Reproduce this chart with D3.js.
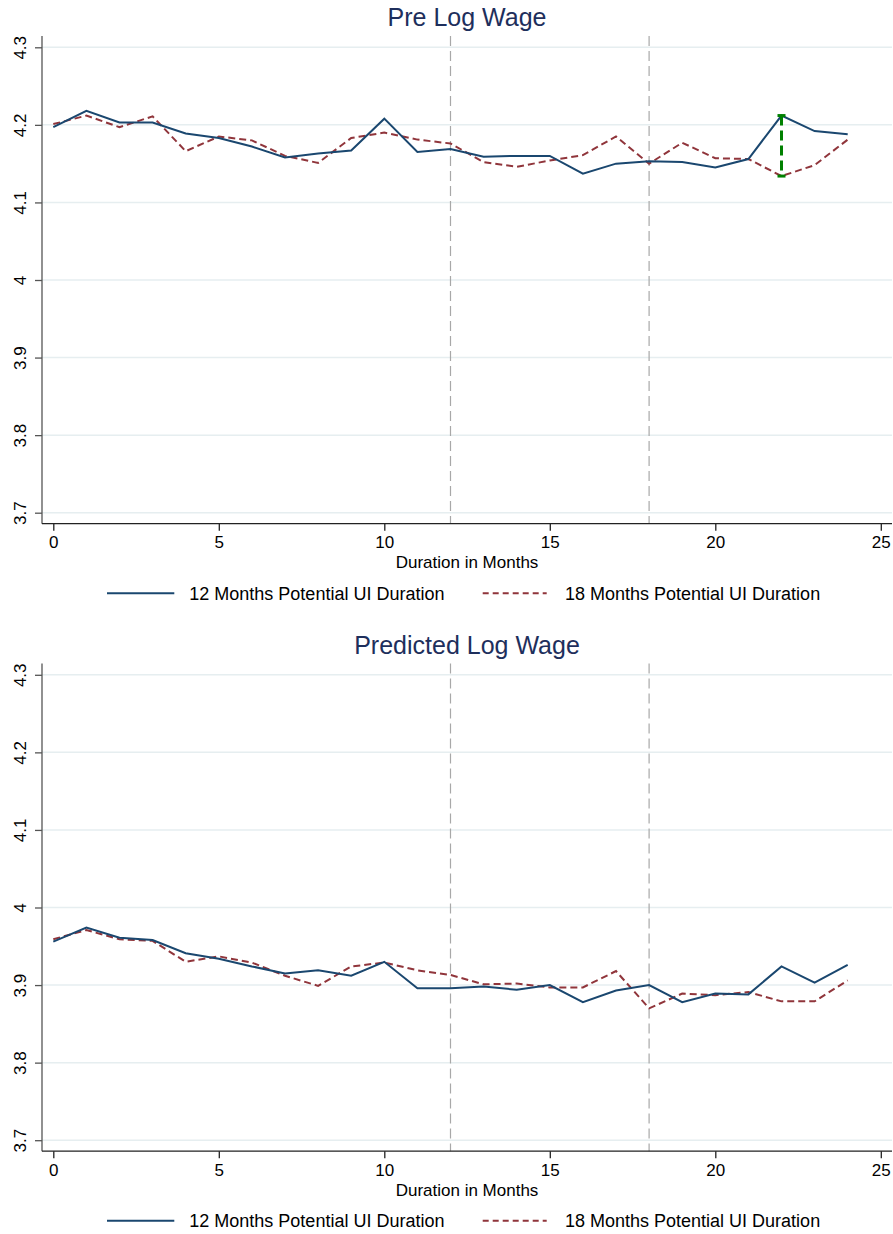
<!DOCTYPE html>
<html>
<head>
<meta charset="utf-8">
<script src="https://cdn.jsdelivr.net/npm/d3@7"></script>
<style>
  body { margin: 0; background: #fff; }
  svg { display: block; font-family: "Liberation Sans", Arial, sans-serif; }
</style>
</head>
<body>
<svg id="chart" width="893" height="1234"></svg>
<script>
const months = d3.range(0, 25);
const xTicks = [0, 5, 10, 15, 20, 25];
const yTicks = [3.7, 3.8, 3.9, 4, 4.1, 4.2, 4.3];
const cutoffs = [12, 18];
const titles = ["Pre Log Wage", "Predicted Log Wage"];
const seriesNames = ["12 Months Potential UI Duration", "18 Months Potential UI Duration"];

const preWage12 = [4.197, 4.218, 4.203, 4.203, 4.189, 4.183, 4.172, 4.158, 4.163, 4.167, 4.208, 4.165, 4.169,
                   4.159, 4.160, 4.160, 4.137, 4.150, 4.153, 4.152, 4.145, 4.156, 4.212, 4.192, 4.188];
const preWage18 = [4.201, 4.212, 4.197, 4.211, 4.166, 4.185, 4.180, 4.160, 4.151, 4.183, 4.190, 4.181, 4.176,
                   4.152, 4.146, 4.154, 4.161, 4.185, 4.150, 4.177, 4.157, 4.156, 4.134, 4.148, 4.181];
const predWage12 = [3.956, 3.974, 3.961, 3.958, 3.941, 3.934, 3.924, 3.915, 3.919, 3.912, 3.930, 3.896, 3.896,
                    3.898, 3.894, 3.900, 3.878, 3.893, 3.900, 3.878, 3.889, 3.888, 3.924, 3.903, 3.926];
const predWage18 = [3.959, 3.971, 3.959, 3.957, 3.930, 3.937, 3.929, 3.912, 3.899, 3.924, 3.929, 3.919, 3.913,
                    3.901, 3.902, 3.897, 3.897, 3.918, 3.870, 3.889, 3.887, 3.891, 3.879, 3.879, 3.906];
const gapMonth = [22];

const blue = "#1a476f";
const red = "#90353b";
const svg = d3.select("#chart");

function panel(dy, title, s12, s18, showGap) {
  const g = svg.append("g").attr("transform", `translate(0,${dy})`);
  const left = 42, right = 892, top = 36, bottom = 523.7;
  const x = d3.scaleLinear().domain([0, 25]).range([53.3, 880.8]);
  const y = d3.scaleLinear().domain([3.7, 4.3]).range([512.7, 47.3]);

  // title
  g.append("text").attr("x", (left + right) / 2).attr("y", 26)
    .attr("text-anchor", "middle").attr("font-size", 25).attr("fill", "#1e2f5c").text(title);

  // gridlines
  g.append("g").selectAll("line").data(yTicks).join("line")
    .attr("x1", left).attr("x2", right)
    .attr("y1", d => y(d)).attr("y2", d => y(d))
    .attr("stroke", "#e6eef0").attr("stroke-width", 1.5);

  // cutoff lines
  g.append("g").selectAll("line").data(cutoffs).join("line")
    .attr("x1", d => x(d)).attr("x2", d => x(d))
    .attr("y1", top).attr("y2", bottom)
    .attr("stroke", "#a8a8a8").attr("stroke-width", 1.2).attr("stroke-dasharray", "10,5");

  // axes
  const yAxis = g.append("g").attr("transform", `translate(${left},0)`)
    .call(d3.axisLeft(y).tickValues(yTicks).tickSize(7).tickFormat(d3.format("")));
  yAxis.select(".domain").attr("d", `M0,${top}V${bottom}`).attr("stroke", "#555").attr("stroke-width", 1.3);
  yAxis.selectAll(".tick line").attr("stroke", "#555").attr("stroke-width", 1.3);
  yAxis.selectAll(".tick text").attr("font-size", 17).attr("fill", "#000")
    .attr("x", null).attr("dy", null).attr("text-anchor", "middle")
    .attr("transform", "translate(-16.5,0) rotate(-90)");

  const xAxis = g.append("g").attr("transform", `translate(0,${bottom})`)
    .call(d3.axisBottom(x).tickValues(xTicks).tickSize(7).tickFormat(d3.format("")));
  xAxis.select(".domain").attr("d", `M${left},0H${right}`).attr("stroke", "#222").attr("stroke-width", 1.3);
  xAxis.selectAll(".tick line").attr("stroke", "#222").attr("stroke-width", 1.3);
  xAxis.selectAll(".tick text").attr("font-size", 17).attr("fill", "#000")
    .attr("y", null).attr("dy", null).attr("transform", "translate(0,24.6)");

  g.append("text").attr("x", (left + right) / 2).attr("y", 568.3)
    .attr("text-anchor", "middle").attr("font-size", 17).text("Duration in Months");

  // lines
  const line = d3.line().x((d, i) => x(months[i])).y(d => y(d));
  g.append("path").datum(s18).attr("d", line).attr("fill", "none")
    .attr("stroke", red).attr("stroke-width", 2).attr("stroke-dasharray", "7,4");
  g.append("path").datum(s12).attr("d", line).attr("fill", "none")
    .attr("stroke", blue).attr("stroke-width", 2);

  if (showGap) {
    gapMonth.forEach(m => {
      const hi = s12[m], lo = s18[m];
      g.append("line").attr("x1", x(m)).attr("x2", x(m)).attr("y1", y(hi)).attr("y2", y(lo))
        .attr("stroke", "#008000").attr("stroke-width", 3).attr("stroke-dasharray", "10,5");
      [hi, lo].forEach(v => {
        g.append("line").attr("x1", x(m) - 4).attr("x2", x(m) + 4).attr("y1", y(v)).attr("y2", y(v))
          .attr("stroke", "#008000").attr("stroke-width", 3);
      });
    });
  }

  // legend
  const ly = 593.3;
  g.append("line").attr("x1", 107).attr("x2", 174.3).attr("y1", ly).attr("y2", ly)
    .attr("stroke", blue).attr("stroke-width", 2);
  g.append("text").attr("x", 189.3).attr("y", ly + 6.3).attr("font-size", 18).text(seriesNames[0]);
  g.append("line").attr("x1", 482.7).attr("x2", 546.7).attr("y1", ly).attr("y2", ly)
    .attr("stroke", red).attr("stroke-width", 2).attr("stroke-dasharray", "6,4");
  g.append("text").attr("x", 565).attr("y", ly + 6.3).attr("font-size", 18).text(seriesNames[1]);
}

panel(0, titles[0], preWage12, preWage18, true);
panel(627.5, titles[1], predWage12, predWage18, false);
</script>
</body>
</html>
